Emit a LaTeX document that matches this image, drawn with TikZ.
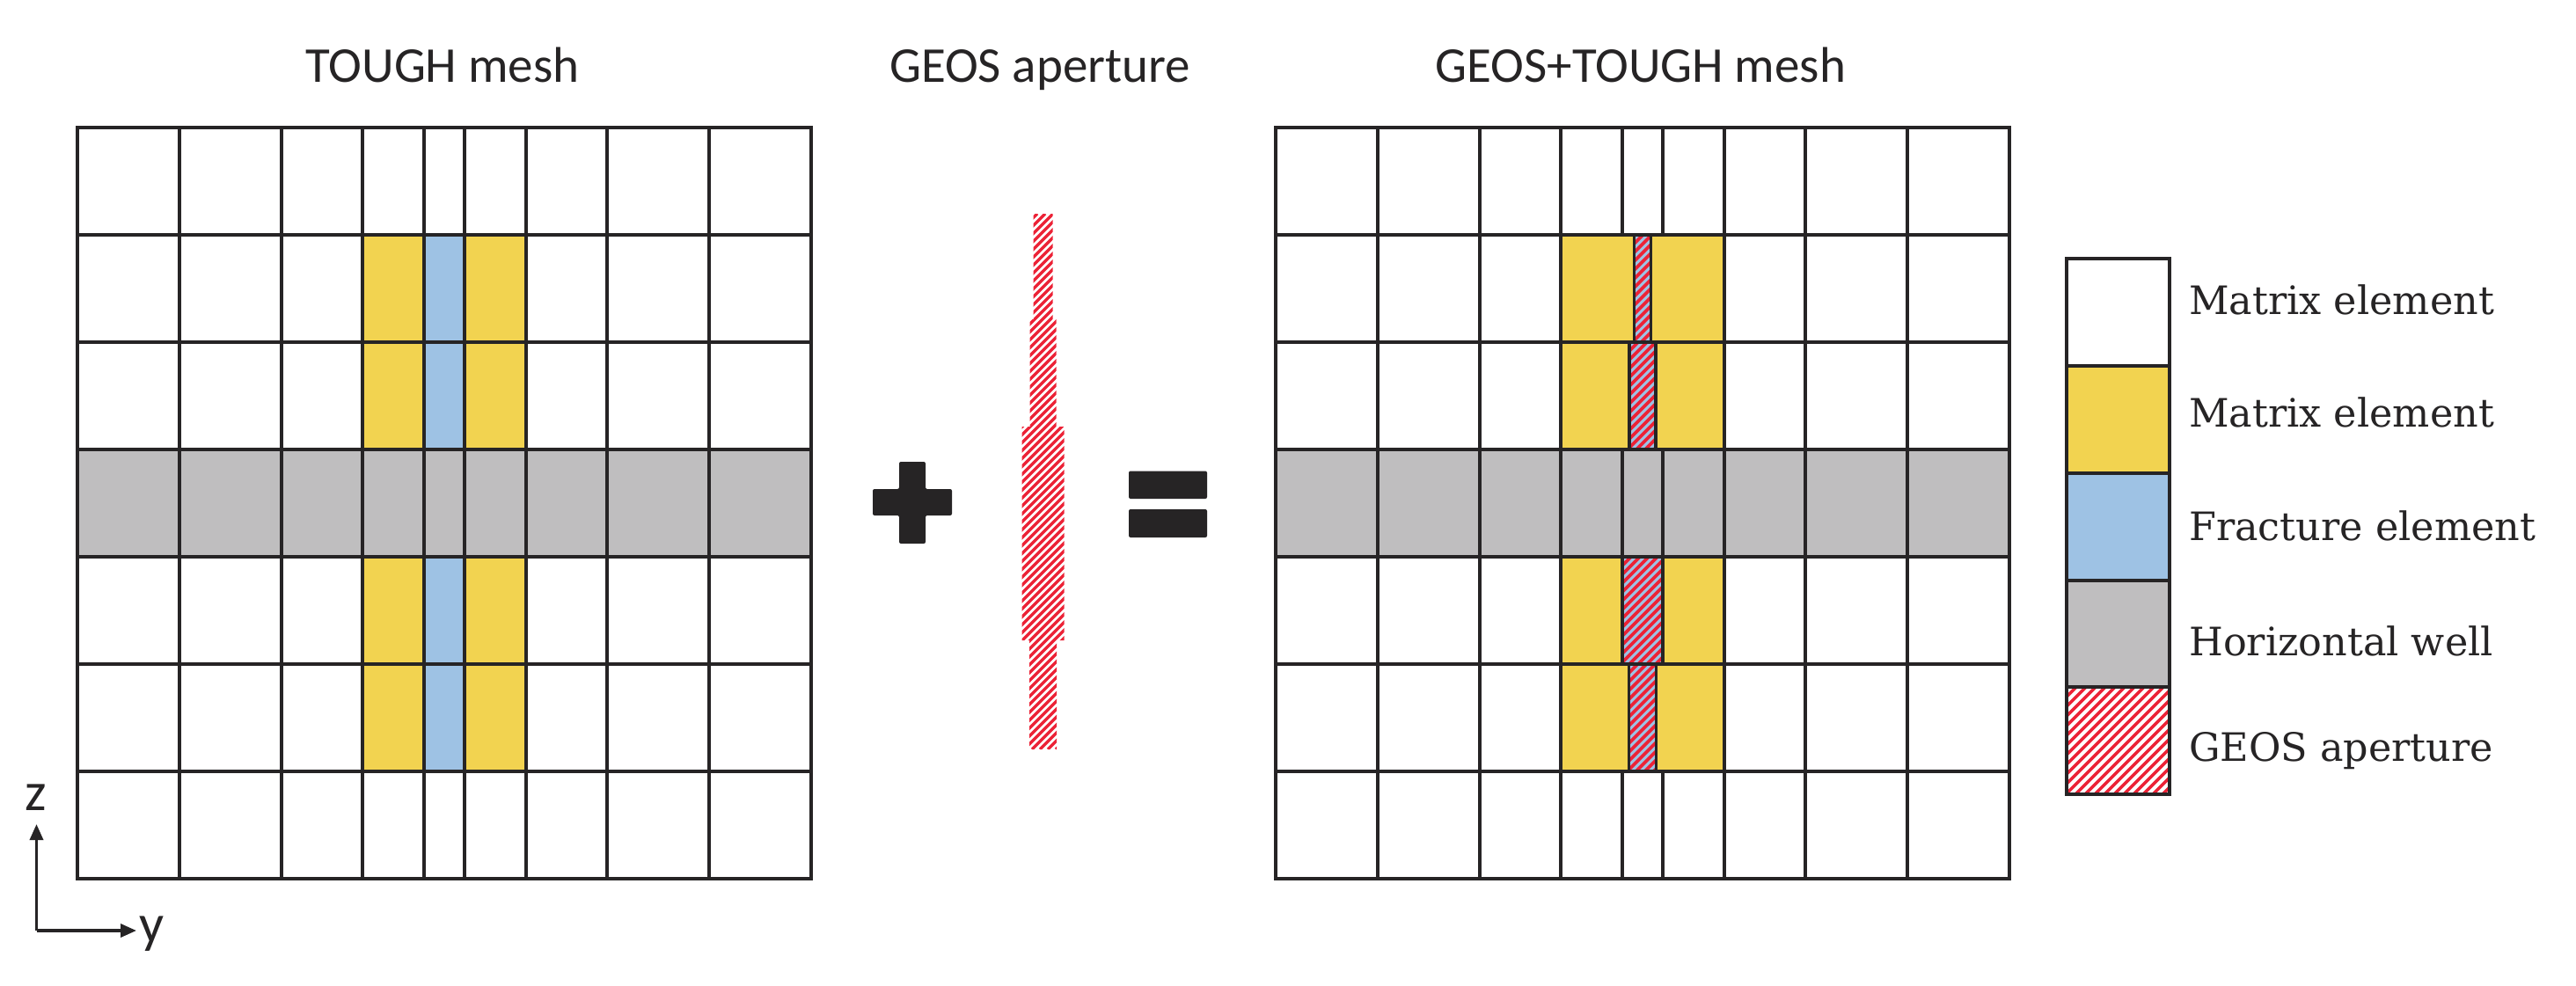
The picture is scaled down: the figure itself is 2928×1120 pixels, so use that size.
\documentclass[tikz,border=0pt]{standalone}
\usepackage{fontspec}
\setmainfont{DejaVu Serif}
\newfontfamily\titlefont{Carlito}
\usetikzlibrary{arrows.meta}
\definecolor{cyellow}{RGB}{242,211,80}
\definecolor{cblue}{RGB}{158,194,228}
\definecolor{cgray}{RGB}{191,190,191}
\definecolor{cred}{RGB}{236,34,54}
\definecolor{cline}{RGB}{38,36,37}
\newcommand{\hatchbox}[6]{%
  \begin{scope}
    \clip (#1,#2) rectangle (#3,#4);
    \pgfmathtruncatemacro{\hn}{((#3)-(#1)+(#4)-(#2))/(#5)+2}
    \foreach \k in {0,...,\hn}{\draw[#6] ({(#1)-((#4)-(#2))+\k*(#5)},#4) -- ({(#1)+\k*(#5)},#2);}
  \end{scope}}
\begin{document}
\begin{tikzpicture}[x=1pt,y=-1pt,
  gridline/.style={draw=cline,line width=3.8pt},
  stripline/.style={draw=cline,line width=3.4pt},
  hatchred/.style={draw=cred,line width=3.6pt},
  legred/.style={draw=cred,line width=3.5pt},
  titletext/.style={font=\titlefont\fontsize{57}{68}\selectfont,text=cline,anchor=base,inner sep=0pt},
  legtext/.style={font=\fontsize{44.5}{52}\selectfont,text=cline,anchor=base west,inner sep=0pt},
  axtext/.style={font=\titlefont\fontsize{62}{72}\selectfont,text=cline,anchor=base west,inner sep=0pt},
  symbol/.style={fill=cline,rounded corners=2pt}]
\useasboundingbox (0,0) rectangle (2928,1120);
\fill[white] (0,0) rectangle (2928,1120);

% ---------- titles ----------
\node[titletext] (tough) at (503,93.5) {TOUGH mesh};
\node[titletext] (geos) at (1182,93.5) {GEOS aperture};
\node[titletext] (both) at (1865,93.5) {GEOS+TOUGH mesh};

% ---------- left grid (TOUGH mesh) ----------
\fill[cgray] (88,511) rectangle (922,633);
\foreach \ya/\yb in {267/389,389/511,633/755,755/877}{
  \fill[cyellow] (412,\ya) rectangle (598,\yb);
  \fill[cblue] (482,\ya) rectangle (528,\yb);
}
\foreach \x in {204,320,412,482,528,598,690,806}
  \draw[gridline] (\x,145) -- (\x,999);
\foreach \y in {267,389,511,633,755,877}
  \draw[gridline] (88,\y) -- (922,\y);
\draw[gridline] (88,145) rectangle (922,999);

% ---------- plus ----------
\fill[symbol] (1022,525) -- (1052,525) -- (1052,556) -- (1082,556) -- (1082,586)
  -- (1052,586) -- (1052,618) -- (1022,618) -- (1022,586) -- (992,586)
  -- (992,556) -- (1022,556) -- cycle;

% ---------- GEOS aperture ----------
\begin{scope}
  \clip (1174.5,243) -- (1196.5,243) -- (1196.5,363) -- (1200.5,363) -- (1200.5,485)
    -- (1209.5,485) -- (1209.5,728) -- (1201,728) -- (1201,852) -- (1170,852)
    -- (1170,728) -- (1161.5,728) -- (1161.5,485) -- (1170.5,485) -- (1170.5,363)
    -- (1174.5,363) -- cycle;
  \foreach \k in {0,...,80}{\draw[draw=cred,line width=3.3pt] ({1161-609+\k*9},852) -- ({1161+\k*9},243);}
\end{scope}

% ---------- equals ----------
\fill[symbol] (1283,535.5) rectangle (1372,567);
\fill[symbol] (1283,579) rectangle (1372,611);

% ---------- right grid (GEOS+TOUGH mesh) ----------
\begin{scope}[xshift=1362pt]
\fill[cgray] (88,511) rectangle (922,633);
\foreach \ya/\yb in {267/389,389/511,633/755,755/877}
  \fill[cyellow] (412,\ya) rectangle (598,\yb);
\foreach \x in {204,320,412,598,690,806}
  \draw[gridline] (\x,145) -- (\x,999);
\foreach \x in {482,528}{
  \draw[gridline] (\x,145) -- (\x,267);
  \draw[gridline] (\x,511) -- (\x,633);
  \draw[gridline] (\x,877) -- (\x,999);
}
\foreach \y in {267,389,511,633,755,877}
  \draw[gridline] (88,\y) -- (922,\y);
\draw[gridline] (88,145) rectangle (922,999);
% aperture strips
\foreach \ya/\yb/\w in {267/389/19,389/511/30,633/755/46,755/877/31}{
  \fill[cblue] ({505-\w/2},\ya) rectangle ({505+\w/2},\yb);
  \hatchbox{505-\w/2}{\ya}{505+\w/2}{\yb}{10}{hatchred}
  \draw[stripline] ({505-\w/2},\ya) rectangle ({505+\w/2},\yb);
}
\end{scope}

% ---------- legend ----------
\fill[white] (2349,294) rectangle (2466,416);
\fill[cyellow] (2349,416) rectangle (2466,538);
\fill[cblue] (2349,538) rectangle (2466,660);
\fill[cgray] (2349,660) rectangle (2466,781);
\hatchbox{2349}{781}{2466}{903}{11}{legred}
\foreach \y in {416,538,660,781}
  \draw[stripline] (2349,\y) -- (2466,\y);
\draw[stripline] (2349,294) rectangle (2466,903);
\node[legtext] (leg1) at (2488,357) {Matrix element};
\node[legtext] (leg2) at (2488,485) {Matrix element};
\node[legtext] (leg3) at (2488,614) {Fracture element};
\node[legtext] (leg4) at (2488,745) {Horizontal well};
\node[legtext] (leg5) at (2488,865) {GEOS aperture};

% ---------- axes ----------
\coordinate (origin) at (41.5,1058);
\coordinate (ztip) at (41.5,937);
\coordinate (ytip) at (155,1058);
\draw[draw=cline,line width=3.4pt,-{Triangle[length=18pt,width=15pt]}] (origin) -- (ztip);
\draw[draw=cline,line width=3.4pt,-{Triangle[length=18pt,width=15pt]}] (origin) -- (ytip);
\node[axtext] (zlab) at (28,921) {z};
\node[axtext] (ylab) at (158,1071) {y};
\end{tikzpicture}
\end{document}
